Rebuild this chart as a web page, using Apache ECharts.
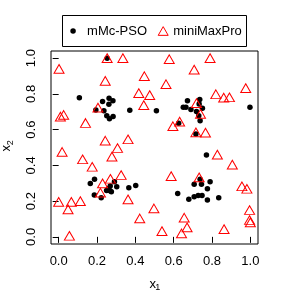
<!DOCTYPE html>
<html><head><meta charset="utf-8">
<script src="https://cdn.jsdelivr.net/npm/echarts/dist/echarts.min.js"></script>
<style>html,body{margin:0;padding:0;background:#fff}#c{width:284px;height:307px}</style>
</head><body><div id="c"></div>
<script>
// ---- data ----
const xTicks = [0, 0.2, 0.4, 0.6, 0.8, 1.0];
const yTicks = [0, 0.2, 0.4, 0.6, 0.8, 1.0];
const seriesNames = ['mMc-PSO', 'miniMaxPro'];

const psoX = [0.253, 0.108, 0.229, 0.263, 0.283, 0.262, 0.194, 0.236, 0.251, 0.265, 0.284, 0.371, 0.510,
  0.998, 0.672, 0.650, 0.664, 0.690, 0.736, 0.733, 0.750, 0.719, 0.731, 0.738, 0.626, 0.716, 0.771,
  0.187, 0.165, 0.291, 0.269, 0.303, 0.250, 0.268, 0.275, 0.260, 0.186, 0.222, 0.366, 0.402,
  0.738, 0.790, 0.707, 0.745, 0.776, 0.621, 0.679, 0.707, 0.728, 0.748, 0.776, 0.835];
const psoY = [1.000, 0.779, 0.757, 0.776, 0.761, 0.742, 0.710, 0.705, 0.678, 0.661, 0.673, 0.709, 0.705,
  0.725, 0.761, 0.725, 0.725, 0.712, 0.768, 0.744, 0.720, 0.701, 0.677, 0.650, 0.636, 0.575, 0.458,
  0.323, 0.299, 0.308, 0.284, 0.280, 0.260, 0.258, 0.252, 0.270, 0.234, 0.219, 0.275, 0.288,
  0.322, 0.308, 0.294, 0.295, 0.269, 0.243, 0.210, 0.224, 0.232, 0.232, 0.206, 0.219];

const mmpX = [0.253, 0.335, 0.577, 0.790, 0.002, 0.707, 0.243, 0.447, 0.560, 0.976, 0.418, 0.475, 0.820,
  0.861, 0.891, 0.444, 0.009, 0.026, 0.140, 0.205, 0.719, 0.740, 0.631, 0.596, 0.716, 0.766, 0.243,
  0.362, 0.307, 0.278, 0.018, 0.125, 0.175, 0.828, 0.906, 0.326, 0.270, 0.229, 0.218, 0.362, 0.587,
  0.733, 0.956, 0.982, 0.000, 0.066, 0.113, 0.049, 0.497, 0.423, 0.655, 0.670, 0.641, 0.539, 0.863,
  0.996, 0.996, 1.000, 0.056];
const mmpY = [1.000, 1.000, 0.994, 1.000, 0.940, 0.936, 0.873, 0.899, 0.854, 0.832, 0.804, 0.793, 0.798,
  0.779, 0.781, 0.737, 0.673, 0.682, 0.637, 0.723, 0.748, 0.688, 0.645, 0.619, 0.585, 0.583, 0.538,
  0.546, 0.497, 0.449, 0.475, 0.434, 0.392, 0.460, 0.404, 0.346, 0.325, 0.299, 0.247, 0.210, 0.340,
  0.333, 0.283, 0.269, 0.196, 0.196, 0.200, 0.154, 0.159, 0.103, 0.107, 0.053, 0.019, 0.032, 0.043,
  0.150, 0.094, 0.081, 0.006];

// ---- chart ----
const FONT = 'Liberation Sans, Arial, sans-serif';
const chart = echarts.init(document.getElementById('c'), null, {renderer: 'canvas'});
const txt = {fontSize: 13, fontFamily: FONT, color: '#000'};

const option = {
  animation: false,
  backgroundColor: '#fff',
  grid: {left: 51, top: 51, right: 26, bottom: 63, show: true, borderColor: '#000', borderWidth: 1, backgroundColor: 'transparent'},
  xAxis: {
    type: 'value', min: -0.04, max: 1.04,
    axisLine: {show: false}, splitLine: {show: false},
    axisTick: {show: true, customValues: xTicks, length: 6, lineStyle: {color: '#000', width: 1}},
    axisLabel: Object.assign({customValues: xTicks, formatter: v => v.toFixed(1), margin: 11}, txt)
  },
  yAxis: {
    type: 'value', min: -0.04, max: 1.04,
    axisLine: {show: false}, splitLine: {show: false},
    axisTick: {show: true, customValues: yTicks, length: 6, lineStyle: {color: '#000', width: 1}},
    axisLabel: Object.assign({customValues: yTicks, formatter: v => v.toFixed(1), margin: 13, rotate: 90}, txt)
  },
  legend: [
    {data: [seriesNames[0]], left: 70.3, top: 24.5, padding: 0, itemGap: 0, itemWidth: 14, itemHeight: 5.5,
     selectedMode: false, textStyle: Object.assign({padding: [0, 0, 0, 2]}, txt), itemStyle: {color: '#000', borderWidth: 0}},
    {data: [seriesNames[1]], left: 157.7, top: 24.5, padding: 0, itemGap: 0, itemWidth: 10, itemHeight: 8.7,
     selectedMode: false, textStyle: txt, itemStyle: {color: 'transparent', borderColor: '#ff0000', borderWidth: 1}}
  ],
  graphic: [
    {type: 'rect', z: -10, shape: {x: 62.5, y: 15.5, width: 184, height: 31}, style: {fill: '#fff', stroke: '#000', lineWidth: 1}},
    {type: 'text', x: 152.8, y: 284.2, style: {text: 'x', fontSize: 13, fontFamily: FONT, fill: '#000', align: 'center', verticalAlign: 'middle'}},
    {type: 'text', x: 157.7, y: 288, style: {text: '1', fontSize: 9, fontFamily: FONT, fill: '#000', align: 'center', verticalAlign: 'middle'}},
    {type: 'text', x: 6.7, y: 148.3, rotation: Math.PI / 2, style: {text: 'x', fontSize: 13, fontFamily: FONT, fill: '#000', align: 'center', verticalAlign: 'middle'}},
    {type: 'text', x: 10.2, y: 142.8, rotation: Math.PI / 2, style: {text: '2', fontSize: 9, fontFamily: FONT, fill: '#000', align: 'center', verticalAlign: 'middle'}}
  ],
  series: [
    {type: 'scatter', name: seriesNames[0], data: psoX.map((x, i) => [x, psoY[i]]),
     symbol: 'circle', symbolSize: 5.5, itemStyle: {color: '#000', opacity: 1}, z: 2},
    {type: 'scatter', name: seriesNames[1], data: mmpX.map((x, i) => [x, mmpY[i]]),
     symbol: 'triangle', symbolSize: [10, 8.7], itemStyle: {color: 'transparent', borderColor: '#ff0000', borderWidth: 1, opacity: 1}, z: 3}
  ]
};
chart.setOption(option);
</script></body></html>
